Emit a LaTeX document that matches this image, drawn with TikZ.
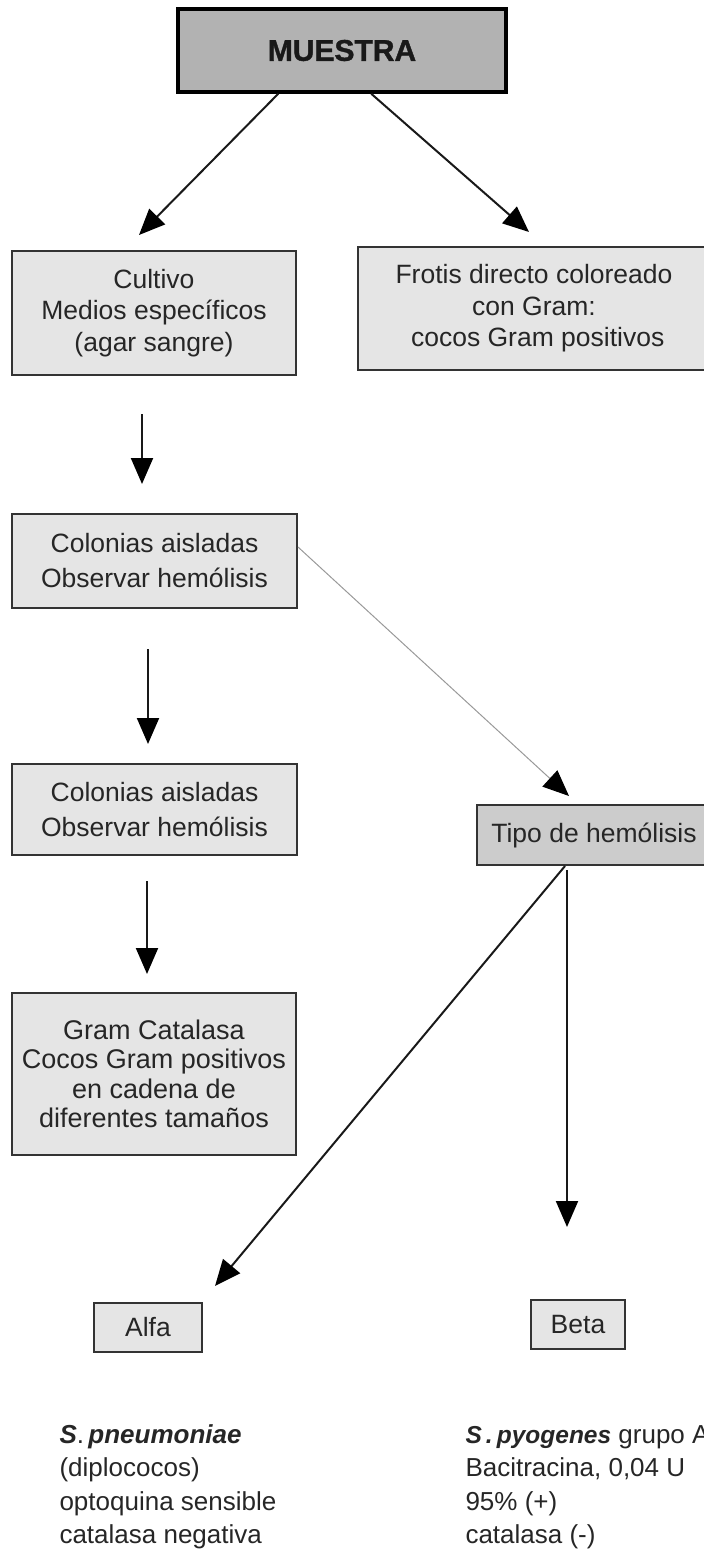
\documentclass[tikz,border=0pt]{standalone}
\usepackage{fontspec}
\setmainfont{Liberation Sans}
\newfontfamily\heavyfont{Liberation Sans Bold}[FakeBold=1.2]
\usetikzlibrary{arrows.meta}
\begin{document}
\begin{tikzpicture}[x=1pt,y=-1pt,
  txt/.style={font=\fontsize{26.5}{31.5}\selectfont, text=black!85},
  box/.style={txt, draw=black!80, line width=2pt, fill=black!10,
    inner sep=0pt, align=center},
  arr/.style={draw=black!90, line width=2pt,
    -{Triangle[length=26pt,width=22pt,color=black]}},
  thinarr/.style={draw=black!40, line width=1pt,
    -{Triangle[length=26pt,width=22pt,color=black]}}]
\useasboundingbox (0,0) rectangle (704,1553);
\clip (0,0) rectangle (704,1553);

% boxes
\node[draw=black, line width=3.5pt, fill=black!30, minimum width=328pt,
  minimum height=83pt, inner sep=0pt,
  font=\fontsize{30}{30}\heavyfont, text=black!90]
  (muestra) at (342,50.5) {MUESTRA};
\node[box, minimum width=284pt, minimum height=124pt]
  (cultivo) at (154,313) {Cultivo\\Medios específicos\\(agar sangre)};
\node[box, minimum width=352pt, minimum height=123pt]
  (frotis) at (534,308.5) {Frotis directo coloreado\\con Gram:\\\ cocos Gram positivos};
\node[box, minimum width=285pt, minimum height=94pt,
  font=\fontsize{26.5}{35}\selectfont]
  (col1) at (154.5,561) {Colonias aisladas\\Observar hemólisis};
\node[box, minimum width=285pt, minimum height=91pt,
  font=\fontsize{26.5}{35}\selectfont]
  (col2) at (154.5,809.5) {Colonias aisladas\\Observar hemólisis};
\node[box, minimum width=284pt, minimum height=162pt,
  font=\fontsize{27}{29.5}\selectfont]
  (gram) at (154,1074) {Gram Catalasa\\Cocos Gram positivos\\en cadena de\\diferentes tamaños};
\node[box, fill=black!20, minimum width=234pt, minimum height=60pt]
  (tipo) at (594,835) {Tipo de hemólisis};
\node[box, minimum width=108pt, minimum height=49pt]
  (alfa) at (148,1327.5) {Alfa};
\node[box, minimum width=94pt, minimum height=49pt]
  (beta) at (578,1324.5) {Beta};

% result notes
\node[txt, anchor=west, align=left, font=\fontsize{26}{33.5}\selectfont]
  (spneu) at (56,1487)
  {\textbf{\textit{S}}.\,\textbf{\textit{pneumoniae}}\\(diplococos)\\optoquina sensible\\catalasa negativa};
\node[txt, anchor=west, align=left, font=\fontsize{26}{33.5}\selectfont]
  (spyo) at (462,1487)
  {{\fontsize{24.5}{33.5}\selectfont\textbf{\textit{S\,.\,pyogenes}}} grupo A\\Bacitracina, 0,04 U\\95\% (+)\\catalasa (-)};

% connectors
\draw[arr] ([xshift=102pt]muestra.south west)
  -- ([xshift=128pt,yshift=15pt]cultivo.north west);
\draw[arr] ([xshift=195pt]muestra.south west)
  -- ([xshift=172pt,yshift=14pt]frotis.north west);
\draw[arr] ([xshift=-12pt,yshift=-38pt]cultivo.south)
  -- ([xshift=-12.5pt,yshift=29pt]col1.north);
\draw[arr] ([xshift=-6.5pt,yshift=-40pt]col1.south)
  -- ([xshift=-6.5pt,yshift=19pt]col2.north);
\draw[arr] ([xshift=-7.5pt,yshift=-25pt]col2.south)
  -- ([xshift=-7pt,yshift=18pt]gram.north);
\draw[thinarr] ([yshift=-34pt]col1.north east)
  -- ([xshift=93pt,yshift=8pt]tipo.north west);
\draw[arr] ([xshift=-29pt]tipo.south)
  -- ([xshift=67pt,yshift=16pt]alfa.north);
\draw[arr] ([xshift=-27pt,yshift=-4pt]tipo.south)
  -- ([xshift=-11pt,yshift=72pt]beta.north);
\end{tikzpicture}
\end{document}
